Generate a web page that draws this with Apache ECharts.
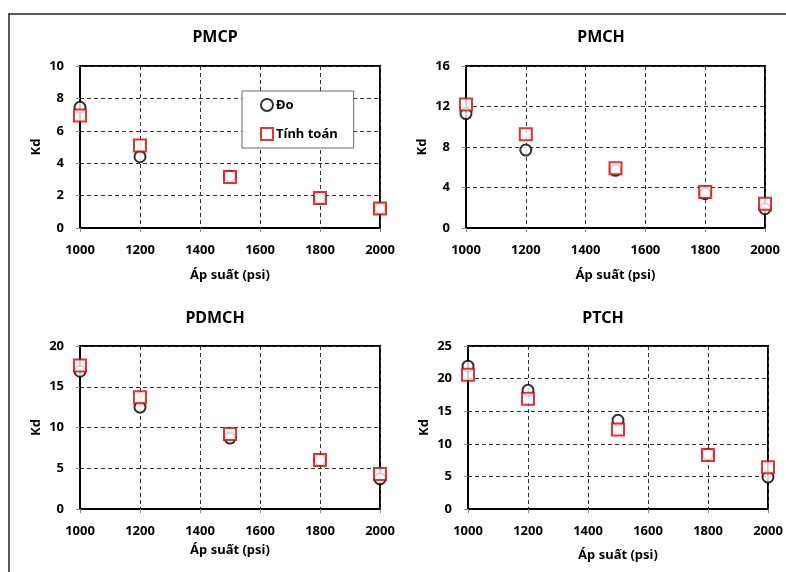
<!DOCTYPE html>
<html>
<head>
<meta charset="utf-8">
<script src="https://cdn.jsdelivr.net/npm/echarts@6/dist/echarts.min.js"></script>
<style>
  html, body { margin: 0; padding: 0; background: #fff; }
  #chart { width: 786px; height: 572px; }
</style>
</head>
<body>
<div id="chart"></div>
<script>
// dữ liệu
const pressure = [1000, 1200, 1500, 1800, 2000];
const pmcpDo = [7.45, 4.4, 3.2, 1.85, 1.2];
const pmcpTinh = [6.95, 5.1, 3.15, 1.85, 1.2];
const pmchDo = [11.3, 7.7, 5.7, 3.4, 1.9];
const pmchTinh = [12.2, 9.25, 5.9, 3.55, 2.4];
const pdmchDo = [16.9, 12.5, 8.7, 6.0, 3.7];
const pdmchTinh = [17.6, 13.7, 9.2, 6.0, 4.3];
const ptchDo = [21.9, 18.2, 13.6, 8.4, 4.9];
const ptchTinh = [20.6, 16.9, 12.2, 8.3, 6.4];

const titles = ['PMCP', 'PMCH', 'PDMCH', 'PTCH'];
const yMax = [10, 16, 20, 25];
const yStep = [2, 4, 5, 5];
const doSets = [pmcpDo, pmchDo, pdmchDo, ptchDo];
const tinhSets = [pmcpTinh, pmchTinh, pdmchTinh, ptchTinh];

const font = 'Noto Sans';

// vị trí các ô
const grids = [
    { left: 80, top: 66, width: 300, height: 162 },
    { left: 466, top: 66, width: 299, height: 162 },
    { left: 80, top: 346, width: 300, height: 163 },
    { left: 468, top: 346, width: 300, height: 163 }
]
const titlePos = [[210, 24], [596, 24], [210, 305], [598, 305]]
const xNameGap = [41, 41, 35, 40]

const dashed = { color: '#333', width: 1, type: [4, 3] }

function pairs(vals) {
    return pressure.map((p, k) => [p, vals[k]])
}

const chart = echarts.init(document.getElementById('chart'), null, { renderer: 'canvas' })

const option = {
    backgroundColor: '#fff',
    animation: false,
    textStyle: { fontFamily: font },
    title: titles.map((t, i) => ({
        text: t,
        left: titlePos[i][0],
        top: titlePos[i][1],
        textAlign: 'center',
        textStyle: { fontFamily: font, fontSize: 16, fontWeight: 'bold', color: '#000' }
    })),
    legend: {
        data: ['Đo', 'Tính toán'],
        orient: 'vertical',
        left: 242,
        top: 91,
        padding: [7, 16, 7, 18],
        itemGap: 15,
        itemWidth: 12,
        itemHeight: 12,
        backgroundColor: '#fff',
        borderColor: '#666',
        borderWidth: 1,
        textStyle: { fontFamily: font, fontSize: 13, fontWeight: 'bold', color: '#000', padding: [0, 0, 0, -2] }
    },
    grid: grids.map(g => Object.assign({
        show: true,
        borderColor: '#000',
        borderWidth: 2,
        backgroundColor: 'transparent'
    }, g)),
    xAxis: grids.map((g, i) => ({
        type: 'value',
        gridIndex: i,
        min: 1000,
        max: 2000,
        interval: 200,
        name: 'Áp suất (psi)',
        nameLocation: 'middle',
        nameGap: xNameGap[i],
        nameTextStyle: { fontFamily: font, fontSize: 13, fontWeight: 'bold', color: '#000' },
        axisLine: { show: true, lineStyle: { color: '#000', width: 2 } },
        axisTick: { show: true, length: 4, lineStyle: { color: '#888' } },
        axisLabel: {
            margin: 16, fontFamily: font, fontSize: 13, fontWeight: 'bold', color: '#000',
            formatter: v => String(v)
        },
        splitLine: { show: true, lineStyle: dashed }
    })),
    yAxis: grids.map((g, i) => ({
        type: 'value',
        gridIndex: i,
        min: 0,
        max: yMax[i],
        interval: yStep[i],
        name: 'Kd',
        nameLocation: 'middle',
        nameGap: 37,
        nameTextStyle: { fontFamily: font, fontSize: 13, fontWeight: 'bold', color: '#000' },
        axisLine: { show: true, lineStyle: { color: '#000', width: 2 } },
        axisTick: { show: true, length: 4, lineStyle: { color: '#888' } },
        axisLabel: { margin: 16, fontFamily: font, fontSize: 13, fontWeight: 'bold', color: '#000' },
        splitLine: { show: true, lineStyle: dashed }
    })),
    series: [],
    graphic: [{
        type: 'rect',
        shape: { x: 9, y: 14, width: 900, height: 700 },
        style: { fill: 'none', stroke: '#222', lineWidth: 1.5 },
        silent: true,
        z: -1
    }]
}

for (let i = 0; i < 4; i++) {
    option.series.push({
        name: 'Đo',
        type: 'scatter',
        xAxisIndex: i,
        yAxisIndex: i,
        symbol: 'emptyCircle',
        symbolSize: 11,
        itemStyle: { color: '#000', borderColor: '#000', borderWidth: 1.8 },
        data: pairs(doSets[i]),
        z: 3
    })
    option.series.push({
        name: 'Tính toán',
        type: 'scatter',
        xAxisIndex: i,
        yAxisIndex: i,
        symbol: 'emptyRect',
        symbolSize: 12,
        itemStyle: { color: '#e00000', borderColor: '#e00000', borderWidth: 1.8 },
        data: pairs(tinhSets[i]),
        z: 4
    })
}

chart.setOption(option)
</script>
</body>
</html>
